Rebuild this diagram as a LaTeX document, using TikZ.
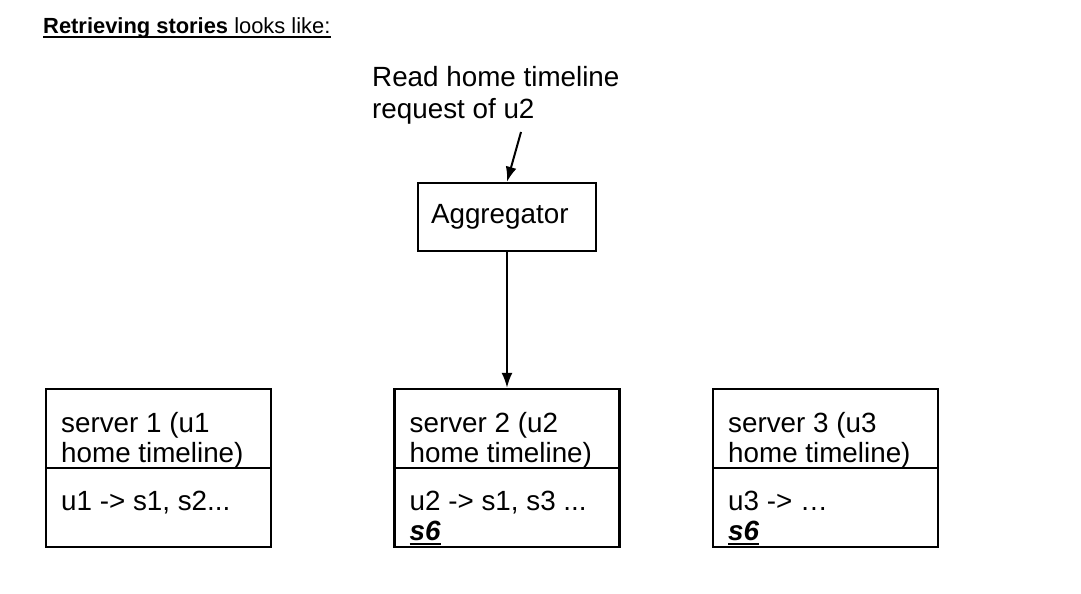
\documentclass[tikz,border=0pt]{standalone}
\usepackage{fontspec}
\setmainfont{Liberation Sans}
\usetikzlibrary{positioning,arrows.meta}

\begin{document}
\begin{tikzpicture}[x=1pt,y=-1pt,
    every node/.style={font=\fontsize{27.8}{33}\selectfont},
    box/.style={draw,line width=2.4pt,minimum width=225pt,minimum height=158pt,inner sep=0pt},
    txt/.style={anchor=base west,inner sep=0pt},
    link/.style={-{Latex[length=15pt,width=11pt]}, line width=2pt}]
  \useasboundingbox (0,0) rectangle (1081,594);

  \node[txt,font=\fontsize{21.9}{26}\selectfont] (title) at (43,34) {\textbf{Retrieving stories} looks like:};
  \draw[line width=1.6pt] ([yshift=-3pt]title.base west) -- ([yshift=-3pt]title.base east);

  \node[txt] (req1) at (372,86) {Read home timeline};
  \node[txt] (req2) at (372,118) {request of u2};
  \coordinate (reqend) at (521,132);

  \node[draw,line width=2.4pt,minimum height=68pt,text width=152pt,inner xsep=13pt,inner ysep=0pt,align=left] (agg) at (507,217) {Aggregator};
  \draw[link] (reqend) -- (agg.north);

  \foreach \n/\cx/\body in {1/158.5/{u1 -> s1, s2...},2/507/{u2 -> s1, s3 ...},3/825.5/{u3 -> …}} {
    \node[box] (srv\n) at (\cx,468) {};
    \draw[line width=2.4pt] (srv\n.west) -- (srv\n.east);
    \node[txt] (srv\n a) at (\cx-97.5,432) {server \n\ (u\n};
    \node[txt] (srv\n b) at (\cx-97.5,462) {home timeline)};
    \node[txt] (srv\n c) at (\cx-97.5,510) {\body};
  }
  \foreach \n in {2,3} {
    \node[txt] (srv\n d) at ([xshift=-97.5pt]srv\n.center |- 0,540) {\textbf{\textit{s6}}};
    \draw[line width=1.8pt] ([yshift=-4pt]srv\n d.base west) -- ([yshift=-4pt]srv\n d.base east);
  }

  \draw[link] (agg.south) -- (srv2.north);
\end{tikzpicture}
\end{document}
